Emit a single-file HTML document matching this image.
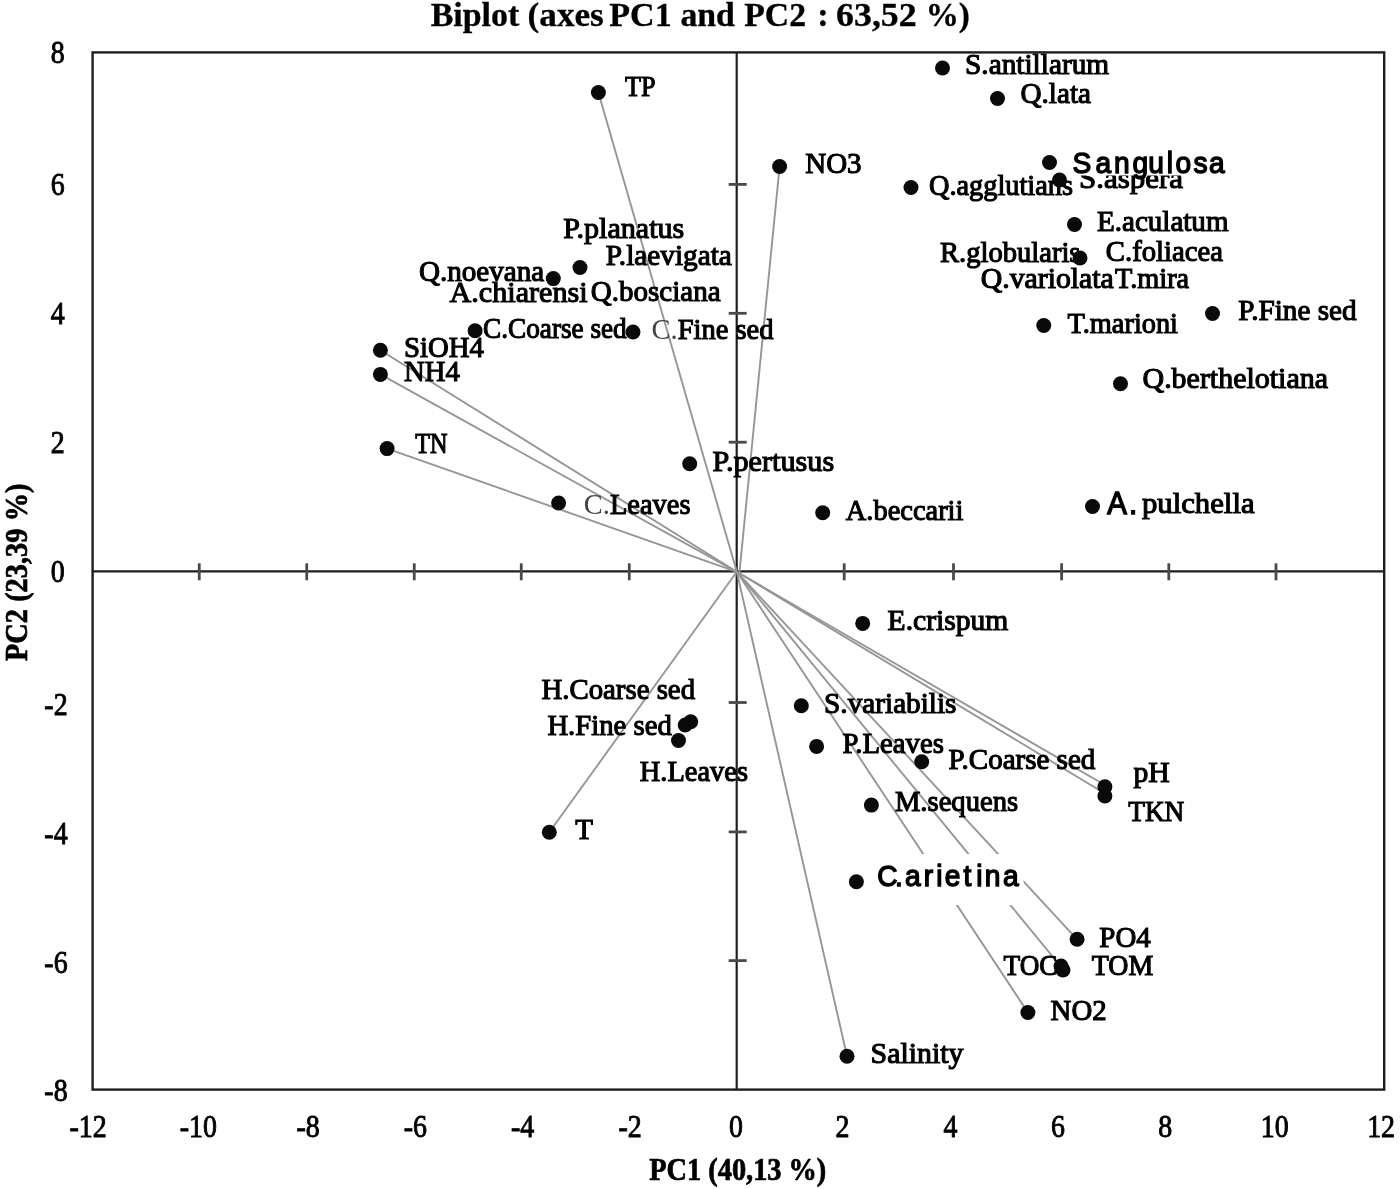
<!DOCTYPE html><html><head><meta charset="utf-8"><style>html,body{margin:0;padding:0;background:#fff;width:1400px;height:1189px;overflow:hidden}svg{display:block;filter:blur(0.6px)}.s{font-family:"Liberation Serif",serif}.a{font-family:"Liberation Sans",sans-serif}</style></head><body>
<svg width="1400" height="1189" viewBox="0 0 1400 1189">
<rect width="1400" height="1189" fill="#fff"/>
<text class="s" x="430.7" y="26" font-size="34" font-weight="bold" textLength="88.62" lengthAdjust="spacingAndGlyphs" fill="#000" stroke="#000" stroke-width="0.3">Biplot</text>
<text class="s" x="527.56" y="26" font-size="34" font-weight="bold" textLength="76.28" lengthAdjust="spacingAndGlyphs" fill="#000" stroke="#000" stroke-width="0.3">(axes</text>
<text class="s" x="609.3" y="26" font-size="34" font-weight="bold" textLength="62.4" lengthAdjust="spacingAndGlyphs" fill="#000" stroke="#000" stroke-width="0.3">PC1</text>
<text class="s" x="680.41" y="26" font-size="34" font-weight="bold" textLength="54.5" lengthAdjust="spacingAndGlyphs" fill="#000" stroke="#000" stroke-width="0.3">and</text>
<text class="s" x="744.3" y="26" font-size="34" font-weight="bold" textLength="61.69" lengthAdjust="spacingAndGlyphs" fill="#000" stroke="#000" stroke-width="0.3">PC2</text>
<text class="s" x="817.27" y="26" font-size="34" font-weight="bold" textLength="11.48" lengthAdjust="spacingAndGlyphs" fill="#000" stroke="#000" stroke-width="0.3">:</text>
<text class="s" x="836.04" y="26" font-size="34" font-weight="bold" textLength="80.71" lengthAdjust="spacingAndGlyphs" fill="#000" stroke="#000" stroke-width="0.3">63,52</text>
<text class="s" x="925.67" y="26" font-size="34" font-weight="bold" textLength="44.22" lengthAdjust="spacingAndGlyphs" fill="#000" stroke="#000" stroke-width="0.3">%)</text>
<text class="s" x="649.3" y="1180" font-size="31" font-weight="bold" textLength="177" lengthAdjust="spacingAndGlyphs" fill="#000" stroke="#000" stroke-width="0.7">PC1 (40,13 %)</text>
<text class="s" transform="translate(27.4,661) rotate(-90)" x="0" y="0" font-size="31" font-weight="bold" textLength="177.5" lengthAdjust="spacingAndGlyphs" fill="#000" stroke="#000" stroke-width="0.7">PC2 (23,39 %)</text>
<rect x="92.6" y="52.4" width="1291.6" height="1037.2" fill="none" stroke="#1e1e1e" stroke-width="2.4"/>
<line x1="92.6" y1="571.3" x2="1384.2" y2="571.3" stroke="#1e1e1e" stroke-width="2.2"/>
<line x1="736.7" y1="52.4" x2="736.7" y2="1089.6" stroke="#1e1e1e" stroke-width="2.2"/>
<line x1="199.25" y1="563.3" x2="199.25" y2="580.3" stroke="#4a4a4a" stroke-width="2.8"/>
<line x1="306.75" y1="563.3" x2="306.75" y2="580.3" stroke="#4a4a4a" stroke-width="2.8"/>
<line x1="414.25" y1="563.3" x2="414.25" y2="580.3" stroke="#4a4a4a" stroke-width="2.8"/>
<line x1="521.25" y1="563.3" x2="521.25" y2="580.3" stroke="#4a4a4a" stroke-width="2.8"/>
<line x1="629.25" y1="563.3" x2="629.25" y2="580.3" stroke="#4a4a4a" stroke-width="2.8"/>
<line x1="844.2" y1="563.3" x2="844.2" y2="580.3" stroke="#4a4a4a" stroke-width="2.8"/>
<line x1="953.5" y1="563.3" x2="953.5" y2="580.3" stroke="#4a4a4a" stroke-width="2.8"/>
<line x1="1061.6" y1="563.3" x2="1061.6" y2="580.3" stroke="#4a4a4a" stroke-width="2.8"/>
<line x1="1168.8" y1="563.3" x2="1168.8" y2="580.3" stroke="#4a4a4a" stroke-width="2.8"/>
<line x1="1276" y1="563.3" x2="1276" y2="580.3" stroke="#4a4a4a" stroke-width="2.8"/>
<line x1="728.7" y1="184.4" x2="746.7" y2="184.4" stroke="#4a4a4a" stroke-width="2.8"/>
<line x1="728.7" y1="313.3" x2="746.7" y2="313.3" stroke="#4a4a4a" stroke-width="2.8"/>
<line x1="728.7" y1="442.2" x2="746.7" y2="442.2" stroke="#4a4a4a" stroke-width="2.8"/>
<line x1="728.7" y1="702.5" x2="746.7" y2="702.5" stroke="#4a4a4a" stroke-width="2.8"/>
<line x1="728.7" y1="831.9" x2="746.7" y2="831.9" stroke="#4a4a4a" stroke-width="2.8"/>
<line x1="728.7" y1="960.6" x2="746.7" y2="960.6" stroke="#4a4a4a" stroke-width="2.8"/>
<line x1="736.8" y1="571.8" x2="598.4" y2="92.5" stroke="#969696" stroke-width="1.9"/>
<line x1="739.5" y1="571.8" x2="779.6" y2="166.5" stroke="#969696" stroke-width="1.9"/>
<line x1="736.8" y1="571.8" x2="380.4" y2="350.3" stroke="#969696" stroke-width="1.9"/>
<line x1="736.8" y1="571.8" x2="380.4" y2="374.4" stroke="#969696" stroke-width="1.9"/>
<line x1="736.8" y1="571.8" x2="387.1" y2="448.6" stroke="#969696" stroke-width="1.9"/>
<line x1="736.8" y1="571.8" x2="549.3" y2="832.3" stroke="#969696" stroke-width="1.9"/>
<line x1="736.8" y1="571.8" x2="847" y2="1056.2" stroke="#969696" stroke-width="1.9"/>
<line x1="736.8" y1="571.8" x2="1027.9" y2="1012.5" stroke="#969696" stroke-width="1.9"/>
<line x1="736.8" y1="571.8" x2="1062" y2="968" stroke="#969696" stroke-width="1.9"/>
<line x1="736.8" y1="571.8" x2="1077.1" y2="939.3" stroke="#969696" stroke-width="1.9"/>
<line x1="736.8" y1="571.8" x2="1104.9" y2="785" stroke="#969696" stroke-width="1.9"/>
<line x1="736.8" y1="571.8" x2="1104.9" y2="793.5" stroke="#969696" stroke-width="1.9"/>
<text class="s" transform="translate(88,1137) scale(0.9,1)" font-size="31" text-anchor="middle" fill="#000" stroke="#000" stroke-width="0.9">-12</text>
<text class="s" transform="translate(198.4,1137) scale(0.9,1)" font-size="31" text-anchor="middle" fill="#000" stroke="#000" stroke-width="0.9">-10</text>
<text class="s" transform="translate(308.2,1137) scale(0.9,1)" font-size="31" text-anchor="middle" fill="#000" stroke="#000" stroke-width="0.9">-8</text>
<text class="s" transform="translate(415.3,1137) scale(0.9,1)" font-size="31" text-anchor="middle" fill="#000" stroke="#000" stroke-width="0.9">-6</text>
<text class="s" transform="translate(522.5,1137) scale(0.9,1)" font-size="31" text-anchor="middle" fill="#000" stroke="#000" stroke-width="0.9">-4</text>
<text class="s" transform="translate(630,1137) scale(0.9,1)" font-size="31" text-anchor="middle" fill="#000" stroke="#000" stroke-width="0.9">-2</text>
<text class="s" transform="translate(735.9,1137) scale(0.9,1)" font-size="31" text-anchor="middle" fill="#000" stroke="#000" stroke-width="0.9">0</text>
<text class="s" transform="translate(842.5,1137) scale(0.9,1)" font-size="31" text-anchor="middle" fill="#000" stroke="#000" stroke-width="0.9">2</text>
<text class="s" transform="translate(950.5,1137) scale(0.9,1)" font-size="31" text-anchor="middle" fill="#000" stroke="#000" stroke-width="0.9">4</text>
<text class="s" transform="translate(1057.9,1137) scale(0.9,1)" font-size="31" text-anchor="middle" fill="#000" stroke="#000" stroke-width="0.9">6</text>
<text class="s" transform="translate(1165.3,1137) scale(0.9,1)" font-size="31" text-anchor="middle" fill="#000" stroke="#000" stroke-width="0.9">8</text>
<text class="s" transform="translate(1274.7,1137) scale(0.9,1)" font-size="31" text-anchor="middle" fill="#000" stroke="#000" stroke-width="0.9">10</text>
<text class="s" transform="translate(1381.1,1137) scale(0.9,1)" font-size="31" text-anchor="middle" fill="#000" stroke="#000" stroke-width="0.9">12</text>
<text class="s" transform="translate(64.6,62.8) scale(0.9,1)" font-size="31" text-anchor="end" fill="#000" stroke="#000" stroke-width="0.9">8</text>
<text class="s" transform="translate(64.6,194.9) scale(0.9,1)" font-size="31" text-anchor="end" fill="#000" stroke="#000" stroke-width="0.9">6</text>
<text class="s" transform="translate(64.6,323.8) scale(0.9,1)" font-size="31" text-anchor="end" fill="#000" stroke="#000" stroke-width="0.9">4</text>
<text class="s" transform="translate(64.6,452.7) scale(0.9,1)" font-size="31" text-anchor="end" fill="#000" stroke="#000" stroke-width="0.9">2</text>
<text class="s" transform="translate(64.6,581.8) scale(0.9,1)" font-size="31" text-anchor="end" fill="#000" stroke="#000" stroke-width="0.9">0</text>
<text class="s" transform="translate(67.6,714.5) scale(0.9,1)" font-size="31" text-anchor="end" fill="#000" stroke="#000" stroke-width="0.9">-2</text>
<text class="s" transform="translate(67.6,843.5) scale(0.9,1)" font-size="31" text-anchor="end" fill="#000" stroke="#000" stroke-width="0.9">-4</text>
<text class="s" transform="translate(67.6,972.5) scale(0.9,1)" font-size="31" text-anchor="end" fill="#000" stroke="#000" stroke-width="0.9">-6</text>
<text class="s" transform="translate(67.6,1100.5) scale(0.9,1)" font-size="31" text-anchor="end" fill="#000" stroke="#000" stroke-width="0.9">-8</text>
<text class="s" x="625.1" y="96.4" font-size="29" textLength="30.6" lengthAdjust="spacingAndGlyphs" fill="#000" stroke="#000" stroke-width="1.1">TP</text>
<text class="s" x="805.2" y="172.9" font-size="29" textLength="56.4" lengthAdjust="spacingAndGlyphs" fill="#000" stroke="#000" stroke-width="1.1">NO3</text>
<text class="s" x="965.0" y="73.75" font-size="29" textLength="144.2" lengthAdjust="spacingAndGlyphs" fill="#000" stroke="#000" stroke-width="1.1">S.antillarum</text>
<text class="s" x="1020.5" y="102.5" font-size="29" textLength="70.5" lengthAdjust="spacingAndGlyphs" fill="#000" stroke="#000" stroke-width="1.1">Q.lata</text>
<text class="s" x="1079.0" y="188" font-size="29" textLength="104.0" lengthAdjust="spacingAndGlyphs" fill="#000" stroke="#000" stroke-width="1.1">S.aspera</text>
<text class="s" x="929.0" y="195" font-size="29" textLength="144.0" lengthAdjust="spacingAndGlyphs" fill="#000" stroke="#000" stroke-width="1.1">Q.agglutians</text>
<text class="s" x="1097.0" y="231.25" font-size="29" textLength="131.5" lengthAdjust="spacingAndGlyphs" fill="#000" stroke="#000" stroke-width="1.1">E.aculatum</text>
<text class="s" x="940.0" y="262" font-size="29" textLength="140.5" lengthAdjust="spacingAndGlyphs" fill="#000" stroke="#000" stroke-width="1.1">R.globularis</text>
<text class="s" x="1105.8" y="261" font-size="29" textLength="117.2" lengthAdjust="spacingAndGlyphs" fill="#000" stroke="#000" stroke-width="1.1">C.foliacea</text>
<text class="s" x="980.8" y="287.5" font-size="29" textLength="133.0" lengthAdjust="spacingAndGlyphs" fill="#000" stroke="#000" stroke-width="1.1">Q.variolata</text>
<text class="s" x="1115.0" y="287.5" font-size="29" textLength="74.2" lengthAdjust="spacingAndGlyphs" fill="#000" stroke="#000" stroke-width="1.1">T.mira</text>
<text class="s" x="1067.5" y="332.5" font-size="29" textLength="110.5" lengthAdjust="spacingAndGlyphs" fill="#000" stroke="#000" stroke-width="1.1">T.marioni</text>
<text class="s" x="1238.2" y="320" font-size="29" textLength="118.5" lengthAdjust="spacingAndGlyphs" fill="#000" stroke="#000" stroke-width="1.1">P.Fine sed</text>
<text class="s" x="1142.5" y="388" font-size="29" textLength="185.5" lengthAdjust="spacingAndGlyphs" fill="#000" stroke="#000" stroke-width="1.1">Q.berthelotiana</text>
<text class="s" x="845.8" y="520.3" font-size="29" textLength="117.6" lengthAdjust="spacingAndGlyphs" fill="#000" stroke="#000" stroke-width="1.1">A.beccarii</text>
<text class="s" x="712.5" y="471.1" font-size="29" textLength="121.7" lengthAdjust="spacingAndGlyphs" fill="#000" stroke="#000" stroke-width="1.1">P.pertusus</text>
<text class="s" x="583.8" y="514.3" font-size="29" textLength="106.7" lengthAdjust="spacingAndGlyphs" fill="#000" stroke="#000" stroke-width="1.1"><tspan fill="#444" stroke="none">C.</tspan>Leaves</text>
<text class="s" x="415.2" y="452.9" font-size="29" textLength="32.3" lengthAdjust="spacingAndGlyphs" fill="#000" stroke="#000" stroke-width="1.1">TN</text>
<text class="s" x="404.1" y="380.9" font-size="29" textLength="55.7" lengthAdjust="spacingAndGlyphs" fill="#000" stroke="#000" stroke-width="1.1">NH4</text>
<text class="s" x="404.1" y="356.8" font-size="29" textLength="79.9" lengthAdjust="spacingAndGlyphs" fill="#000" stroke="#000" stroke-width="1.1">SiOH4</text>
<text class="s" x="483.1" y="338" font-size="29" textLength="143.6" lengthAdjust="spacingAndGlyphs" fill="#000" stroke="#000" stroke-width="1.1">C.Coarse sed</text>
<text class="s" x="651.5" y="339" font-size="29" textLength="122.0" lengthAdjust="spacingAndGlyphs" fill="#000" stroke="#000" stroke-width="1.1"><tspan fill="#444" stroke="none">C.</tspan>Fine sed</text>
<text class="s" x="418.9" y="280.6" font-size="29" textLength="125.4" lengthAdjust="spacingAndGlyphs" fill="#000" stroke="#000" stroke-width="1.1">Q.noevana</text>
<text class="s" x="449.6" y="302" font-size="29" textLength="138.0" lengthAdjust="spacingAndGlyphs" fill="#000" stroke="#000" stroke-width="1.1">A.chiarensi</text>
<text class="s" x="590.8" y="301.25" font-size="29" textLength="129.8" lengthAdjust="spacingAndGlyphs" fill="#000" stroke="#000" stroke-width="1.1">Q.bosciana</text>
<text class="s" x="563.2" y="237.5" font-size="29" textLength="121.0" lengthAdjust="spacingAndGlyphs" fill="#000" stroke="#000" stroke-width="1.1">P.planatus</text>
<text class="s" x="605.8" y="265" font-size="29" textLength="126.0" lengthAdjust="spacingAndGlyphs" fill="#000" stroke="#000" stroke-width="1.1">P.laevigata</text>
<text class="s" x="887.6" y="630.3" font-size="29" textLength="120.8" lengthAdjust="spacingAndGlyphs" fill="#000" stroke="#000" stroke-width="1.1">E.crispum</text>
<text class="s" x="824.1" y="712.6" font-size="29" textLength="132.4" lengthAdjust="spacingAndGlyphs" fill="#000" stroke="#000" stroke-width="1.1">S.variabilis</text>
<text class="s" x="842.4" y="752.6" font-size="29" textLength="101.5" lengthAdjust="spacingAndGlyphs" fill="#000" stroke="#000" stroke-width="1.1">P.Leaves</text>
<text class="s" x="948.6" y="768.6" font-size="29" textLength="146.7" lengthAdjust="spacingAndGlyphs" fill="#000" stroke="#000" stroke-width="1.1">P.Coarse sed</text>
<text class="s" x="894.9" y="810.9" font-size="29" textLength="123.3" lengthAdjust="spacingAndGlyphs" fill="#000" stroke="#000" stroke-width="1.1">M.sequens</text>
<text class="s" x="1133.4" y="781.6" font-size="29" textLength="36.3" lengthAdjust="spacingAndGlyphs" fill="#000" stroke="#000" stroke-width="1.1">pH</text>
<text class="s" x="1128.3" y="820.7" font-size="29" textLength="56.0" lengthAdjust="spacingAndGlyphs" fill="#000" stroke="#000" stroke-width="1.1">TKN</text>
<text class="s" x="1099.3" y="946.9" font-size="29" textLength="51.5" lengthAdjust="spacingAndGlyphs" fill="#000" stroke="#000" stroke-width="1.1">PO4</text>
<text class="s" x="1003.5" y="974.6" font-size="29" textLength="54.0" lengthAdjust="spacingAndGlyphs" fill="#000" stroke="#000" stroke-width="1.1">TOC</text>
<text class="s" x="1091.8" y="974.6" font-size="29" textLength="61.5" lengthAdjust="spacingAndGlyphs" fill="#000" stroke="#000" stroke-width="1.1">TOM</text>
<text class="s" x="1050.6" y="1020" font-size="29" textLength="56.0" lengthAdjust="spacingAndGlyphs" fill="#000" stroke="#000" stroke-width="1.1">NO2</text>
<text class="s" x="870.6" y="1062.7" font-size="29" textLength="92.8" lengthAdjust="spacingAndGlyphs" fill="#000" stroke="#000" stroke-width="1.1">Salinity</text>
<text class="s" x="575.2" y="839.2" font-size="29" textLength="17.7" lengthAdjust="spacingAndGlyphs" fill="#000" stroke="#000" stroke-width="1.1">T</text>
<text class="s" x="541.4" y="698.6" font-size="29" textLength="153.7" lengthAdjust="spacingAndGlyphs" fill="#000" stroke="#000" stroke-width="1.1">H.Coarse sed</text>
<text class="s" x="547.4" y="735.2" font-size="29" textLength="124.4" lengthAdjust="spacingAndGlyphs" fill="#000" stroke="#000" stroke-width="1.1">H.Fine sed</text>
<text class="s" x="639.8" y="780.7" font-size="29" textLength="108.2" lengthAdjust="spacingAndGlyphs" fill="#000" stroke="#000" stroke-width="1.1">H.Leaves</text>
<circle cx="598.4" cy="92.5" r="7.5" fill="#0a0a0a"/>
<circle cx="779.6" cy="166.5" r="7.5" fill="#0a0a0a"/>
<circle cx="942.5" cy="68" r="7.5" fill="#0a0a0a"/>
<circle cx="997.5" cy="98.5" r="7.5" fill="#0a0a0a"/>
<circle cx="1049.5" cy="162.5" r="7.5" fill="#0a0a0a"/>
<circle cx="1059.5" cy="180" r="7.5" fill="#0a0a0a"/>
<circle cx="911" cy="187.5" r="7.5" fill="#0a0a0a"/>
<circle cx="1074.5" cy="224.5" r="7.5" fill="#0a0a0a"/>
<circle cx="1080" cy="258" r="7.5" fill="#0a0a0a"/>
<circle cx="1043.75" cy="325.5" r="7.5" fill="#0a0a0a"/>
<circle cx="1212.5" cy="313.5" r="7.5" fill="#0a0a0a"/>
<circle cx="1120.5" cy="383.75" r="7.5" fill="#0a0a0a"/>
<circle cx="1092.5" cy="506.5" r="7.5" fill="#0a0a0a"/>
<circle cx="822.7" cy="512.7" r="7.5" fill="#0a0a0a"/>
<circle cx="689.7" cy="463.8" r="7.5" fill="#0a0a0a"/>
<circle cx="558.6" cy="503" r="7.5" fill="#0a0a0a"/>
<circle cx="387.1" cy="448.6" r="7.5" fill="#0a0a0a"/>
<circle cx="380.4" cy="350.3" r="7.5" fill="#0a0a0a"/>
<circle cx="380.4" cy="374.4" r="7.5" fill="#0a0a0a"/>
<circle cx="475.1" cy="330.8" r="7.5" fill="#0a0a0a"/>
<circle cx="633" cy="332" r="7.5" fill="#0a0a0a"/>
<circle cx="553.3" cy="278.6" r="7.5" fill="#0a0a0a"/>
<circle cx="580" cy="267.5" r="7.5" fill="#0a0a0a"/>
<circle cx="862.7" cy="623.4" r="7.5" fill="#0a0a0a"/>
<circle cx="801.3" cy="705.7" r="7.5" fill="#0a0a0a"/>
<circle cx="816.6" cy="746.4" r="7.5" fill="#0a0a0a"/>
<circle cx="921.7" cy="761.7" r="7.5" fill="#0a0a0a"/>
<circle cx="871.4" cy="805.1" r="7.5" fill="#0a0a0a"/>
<circle cx="1104.9" cy="786.7" r="7.5" fill="#0a0a0a"/>
<circle cx="1104.9" cy="796" r="7.5" fill="#0a0a0a"/>
<circle cx="856.4" cy="881.7" r="7.5" fill="#0a0a0a"/>
<circle cx="1077.1" cy="939.3" r="7.5" fill="#0a0a0a"/>
<circle cx="1061" cy="966" r="7.5" fill="#0a0a0a"/>
<circle cx="1063" cy="970" r="7.5" fill="#0a0a0a"/>
<circle cx="1027.9" cy="1012.5" r="7.5" fill="#0a0a0a"/>
<circle cx="847" cy="1056.2" r="7.5" fill="#0a0a0a"/>
<circle cx="549.3" cy="832.3" r="7.5" fill="#0a0a0a"/>
<circle cx="685.2" cy="725" r="7.5" fill="#0a0a0a"/>
<circle cx="690.7" cy="721.8" r="7.5" fill="#0a0a0a"/>
<circle cx="678.5" cy="740.5" r="7.5" fill="#0a0a0a"/>
<rect x="1068" y="145" width="159" height="30.5" fill="#fff"/>
<text class="a" transform="translate(0,173) scale(0.97,1)" x="1105.80 1129.31 1148.48 1167.66 1183.85 1202.92 1211.78 1230.52 1246.42" y="0" font-size="29" fill="#000" stroke="#000" stroke-width="1.4">Sangulosa</text>
<rect x="1103" y="484" width="156" height="34" fill="#fff"/>
<text class="a" transform="translate(0,513.5) scale(0.95,1)" x="1165.47 1188.42" y="0" font-size="31" fill="#000" stroke="#000" stroke-width="1.4">A.</text>
<text class="s" x="1141.9" y="513.4" font-size="29" textLength="112.7" lengthAdjust="spacingAndGlyphs" fill="#000" stroke="#000" stroke-width="1.1">pulchella</text>
<rect x="871.6" y="854" width="152" height="51" fill="#fff"/>
<text class="a" transform="translate(0,885.6) scale(0.97,1)" x="904.26 922.74 933.12 952.30 965.29 974.05 993.30 1006.53 1015.19 1034.05" y="0" font-size="29" fill="#000" stroke="#000" stroke-width="1.4">C.arietina</text>
</svg></body></html>
